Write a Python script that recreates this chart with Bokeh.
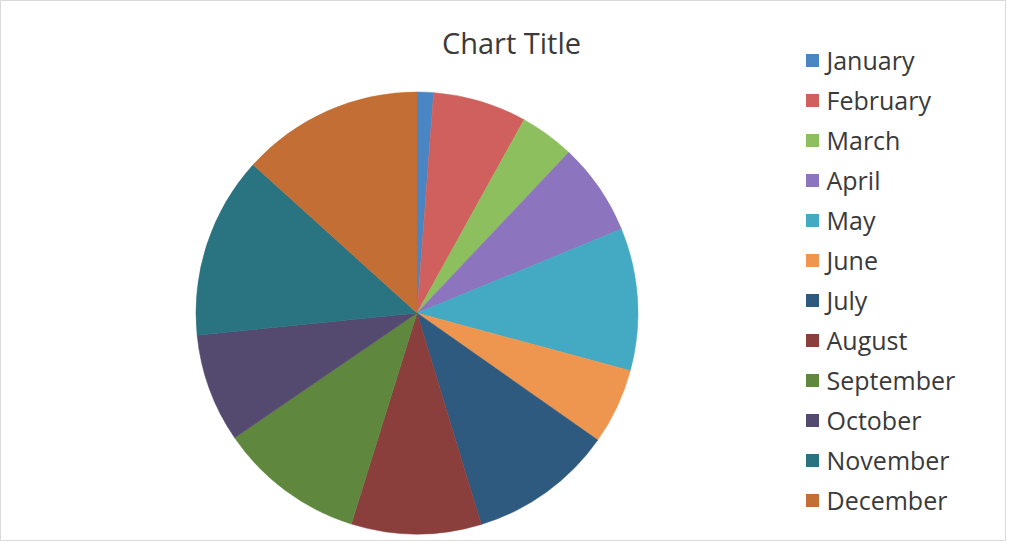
import math
from bokeh.plotting import figure
from bokeh.models import Range1d, ColumnDataSource
from bokeh.core.properties import value
from bokeh.embed import file_html
from bokeh.resources import INLINE

months = ["January", "February", "March", "April", "May", "June",
          "July", "August", "September", "October", "November", "December"]
values = [1.2, 6.85, 4.0, 6.75, 10.4, 5.55, 10.55, 9.5, 10.65, 7.95, 13.3, 13.3]
colors = ["#4A86C4", "#D0605E", "#8DBF5E", "#8C74BE", "#44A9C2", "#EE9650",
          "#2F5A80", "#8A3F3D", "#5F873E", "#54496F", "#2A7380", "#C26E34"]
title = "Chart Title"

W, H = 1006, 541
p = figure(width=W, height=H, output_backend="svg", toolbar_location=None,
           x_range=Range1d(0, W), y_range=Range1d(0, H), min_border=0)
p.axis.visible = False
p.grid.visible = False
p.outline_line_color = "#d9d9d9"
p.background_fill_color = "white"
p.border_fill_color = "white"

total = sum(values)
starts, ends = [], []
cum = 0.0
for v in values:
    a0 = cum / total * 2 * math.pi
    cum += v
    a1 = cum / total * 2 * math.pi
    starts.append(math.pi / 2 - a1)
    ends.append(math.pi / 2 - a0)

src = ColumnDataSource(dict(start=starts, end=ends, color=colors, month=months))
cx, cy, r = 416.5, 228.5, 221
p.wedge(x=cx, y=cy, radius=r, start_angle="start", end_angle="end",
        fill_color="color", line_color="color", line_width=0.5, source=src)

p.text(x=[511], y=[499], text=[title], text_font=value("Open Sans"),
       text_font_size="29px", text_color="#3a3a3a", text_align="center",
       text_baseline="middle")

ly = [481 - 40 * i for i in range(len(months))]
p.rect(x=[812] * len(months), y=ly, width=13, height=13,
       width_units="screen", height_units="screen",
       fill_color=colors, line_color=None)
p.text(x=[826] * len(months), y=[y + 1 for y in ly], text=months,
       text_font=value("Open Sans"), text_font_size="25px",
       text_color="#3a3a3a", text_align="left", text_baseline="middle")

open("out.html", "w").write(file_html(p, INLINE))
